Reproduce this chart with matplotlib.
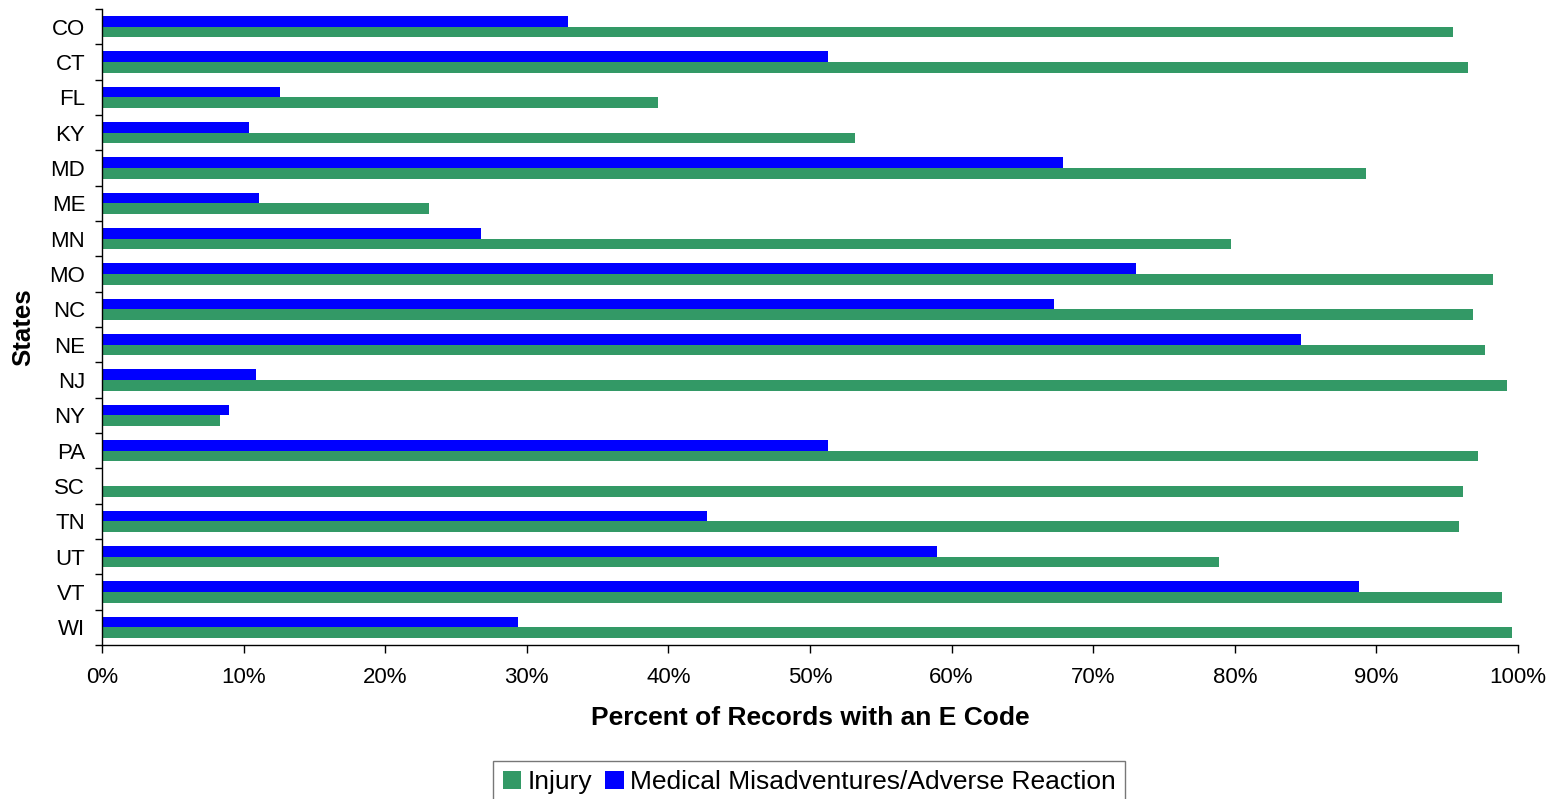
import matplotlib
matplotlib.use("Agg")
import matplotlib.pyplot as plt
import numpy as np
from matplotlib.ticker import FuncFormatter, MultipleLocator

plt.rcParams['font.family'] = ['Liberation Sans', 'DejaVu Sans']

states = ["CO", "CT", "FL", "KY", "MD", "ME", "MN", "MO", "NC", "NE",
          "NJ", "NY", "PA", "SC", "TN", "UT", "VT", "WI"]
injury = [95.4, 96.5, 39.3, 53.2, 89.3, 23.1, 79.7, 98.2, 96.8, 97.7,
          99.2, 8.3, 97.2, 96.1, 95.8, 78.9, 98.9, 99.6]
medical = [32.9, 51.3, 12.6, 10.4, 67.9, 11.1, 26.8, 73.0, 67.2, 84.7,
           10.9, 9.0, 51.3, 0.0, 42.7, 59.0, 88.8, 29.4]

GREEN = "#339966"
BLUE = "#0000FF"

fig = plt.figure(figsize=(15.55, 7.99), dpi=100)
ax = fig.add_axes([0.0656, 0.1927, 0.9762 - 0.0656, 0.9887 - 0.1927])

y = np.arange(len(states))
h = 0.30
ax.barh(y + h / 2, injury, height=h, color=GREEN, label="Injury")
ax.barh(y - h / 2, medical, height=h, color=BLUE,
        label="Medical Misadventures/Adverse Reaction")

ax.set_xlim(0, 100)
ax.set_ylim(len(states) - 0.5, -0.5)
ax.set_yticks(y)
ax.set_yticklabels(states)
ax.set_yticks(np.arange(len(states) + 1) - 0.5, minor=True)
ax.tick_params(axis='y', which='major', length=0, labelsize=16, pad=12)
ax.tick_params(axis='y', which='minor', length=5, width=1, direction='out')
ax.xaxis.set_major_locator(MultipleLocator(10))
ax.xaxis.set_major_formatter(FuncFormatter(lambda v, p: f"{int(round(v))}%"))
ax.tick_params(axis='x', which='major', length=6, width=1, labelsize=16, pad=10)

for s in ['top', 'right']:
    ax.spines[s].set_visible(False)
for s in ['left', 'bottom']:
    ax.spines[s].set_linewidth(1.0)
    ax.spines[s].set_color('black')

ax.set_xlabel("Percent of Records with an E Code", fontsize=19, fontweight='bold', labelpad=13)
ax.set_ylabel("States", fontsize=18.5, fontweight='bold', labelpad=10)

leg = fig.legend(loc='upper center', bbox_to_anchor=(0.5205, 0.0476), ncol=2,
                 fontsize=19, frameon=True, fancybox=False,
                 handlelength=0.7, handleheight=0.7, handletextpad=0.25,
                 columnspacing=0.5, borderpad=0.35, borderaxespad=0)
leg.get_frame().set_edgecolor('#555555')
leg.get_frame().set_linewidth(1.0)

fig.savefig("out.png", dpi=100)
